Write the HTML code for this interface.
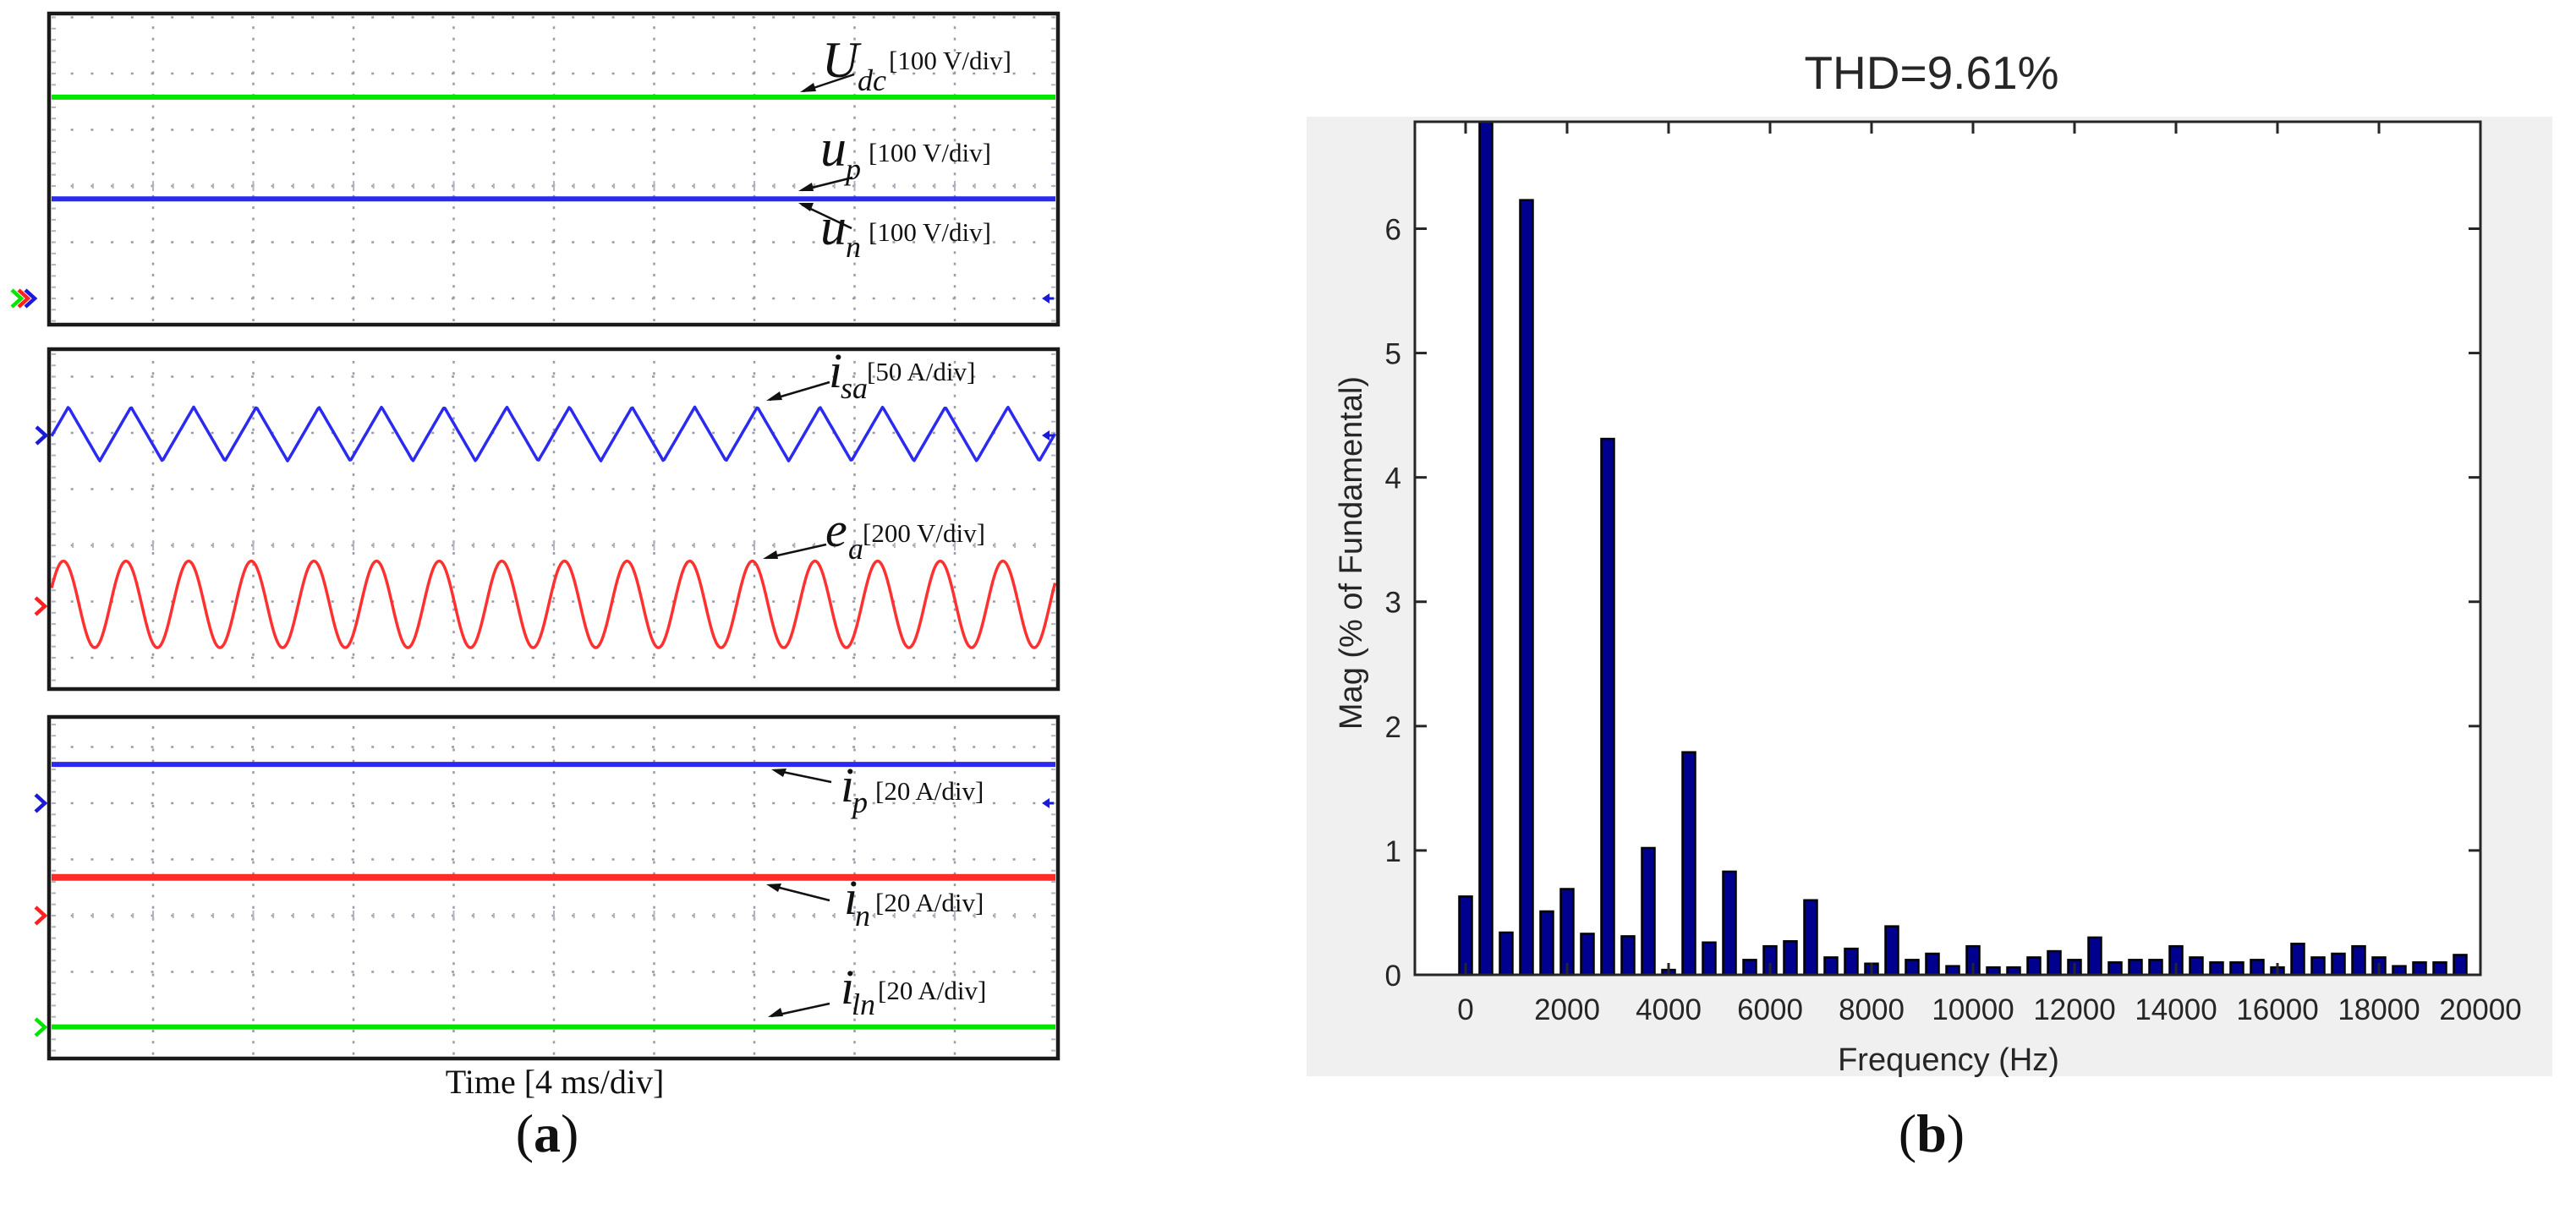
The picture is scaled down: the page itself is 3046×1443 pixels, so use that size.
<!DOCTYPE html>
<html><head><meta charset="utf-8"><style>
html,body{margin:0;padding:0;background:#fff;}
svg{display:block;}
.lbl{font-family:"Liberation Serif",serif;fill:#111;}
.it{font-style:italic;}
.ax{font-family:"Liberation Sans",sans-serif;fill:#262626;}
</style></head><body>
<svg id="fig" width="3046" height="1443" viewBox="0 0 3046 1443" xmlns="http://www.w3.org/2000/svg">
<rect x="0" y="0" width="3046" height="1443" fill="#fff"/>
<g id="scope"></g>
<g id="fft"></g>

<g stroke="#111" stroke-width="2.5" fill="none">
  <line x1="1010" y1="88" x2="950" y2="108"/>
  <line x1="1008" y1="210" x2="948" y2="225"/>
  <line x1="1007" y1="270" x2="948" y2="242"/>
  <line x1="981" y1="452" x2="910" y2="473"/>
  <line x1="977" y1="644" x2="906" y2="660"/>
  <line x1="983" y1="925" x2="916" y2="911"/>
  <line x1="981" y1="1065" x2="910" y2="1047"/>
  <line x1="981" y1="1187" x2="912" y2="1202"/>
</g>
<g fill="#111">
  <polygon points="946,109 962,98 965,108"/>
  <polygon points="944,226 960,216 962,226"/>
  <polygon points="944,240 962,240 958,250"/>
  <polygon points="906,474 922,463 925,473"/>
  <polygon points="902,661 918,651 920,661"/>
  <polygon points="912,910 930,909 926,919"/>
  <polygon points="906,1046 924,1045 920,1055"/>
  <polygon points="908,1203 923,1192 926,1202"/>
</g>
<g class="lbl">
  <text x="972" y="91" class="it" font-size="60">U</text>
  <text x="1014" y="107" class="it" font-size="36">dc</text>
  <text x="1051" y="82" font-size="31">[100 V/div]</text>

  <text x="970" y="196" class="it" font-size="62">u</text>
  <text x="1000" y="212" class="it" font-size="36">p</text>
  <text x="1027" y="191" font-size="31">[100 V/div]</text>

  <text x="970" y="289" class="it" font-size="62">u</text>
  <text x="1000" y="304" class="it" font-size="36">n</text>
  <text x="1027" y="285" font-size="31">[100 V/div]</text>

  <text x="980" y="458" class="it" font-size="58">i</text>
  <text x="994" y="471" class="it" font-size="36">sa</text>
  <text x="1025" y="450" font-size="31">[50 A/div]</text>

  <text x="976" y="646" class="it" font-size="58">e</text>
  <text x="1003" y="661" class="it" font-size="36">a</text>
  <text x="1020" y="641" font-size="31">[200 V/div]</text>

  <text x="994" y="948" class="it" font-size="58">i</text>
  <text x="1008" y="961" class="it" font-size="36">p</text>
  <text x="1035" y="946" font-size="31">[20 A/div]</text>

  <text x="998" y="1081" class="it" font-size="58">i</text>
  <text x="1011" y="1095" class="it" font-size="36">n</text>
  <text x="1035" y="1078" font-size="31">[20 A/div]</text>

  <text x="994" y="1187" class="it" font-size="58">i</text>
  <text x="1007" y="1200" class="it" font-size="36">ln</text>
  <text x="1038" y="1182" font-size="31">[20 A/div]</text>

  <text x="656" y="1293" text-anchor="middle" font-size="40">Time [4 ms/div]</text>
  <text x="647" y="1362" text-anchor="middle" font-size="64">(<tspan font-weight="bold">a</tspan>)</text>
  <text x="2284" y="1362" text-anchor="middle" font-size="64">(<tspan font-weight="bold">b</tspan>)</text>
</g>
</svg>
<script>
// ===== FFT chart data =====
const harmonicFreqs = [0,400,800,1200,1600,2000,2400,2800,3200,3600,4000,4400,4800,5200,5600,6000,6400,6800,7200,7600,8000,8400,8800,9200,9600,10000,10400,10800,11200,11600,12000,12400,12800,13200,13600,14000,14400,14800,15200,15600,16000,16400,16800,17200,17600,18000,18400,18800,19200,19600];
const harmonicMags = [0.63,7.5,0.34,6.23,0.51,0.69,0.33,4.31,0.31,1.02,0.04,1.79,0.26,0.83,0.12,0.23,0.27,0.60,0.14,0.21,0.09,0.39,0.12,0.17,0.07,0.23,0.06,0.06,0.14,0.19,0.12,0.30,0.10,0.12,0.12,0.23,0.14,0.10,0.10,0.12,0.06,0.25,0.14,0.17,0.23,0.14,0.07,0.10,0.10,0.16];
const xTickValues = [0,2000,4000,6000,8000,10000,12000,14000,16000,18000,20000];
const yTickValues = [0,1,2,3,4,5,6];
const xDomain = [-1000, 20000];
const yDomain = [0, 6.86];
const chartTitle = "THD=9.61%";

// ===== Oscilloscope trace data (levels/amplitudes in divisions) =====
const scopeDcNames = ["Udc","up-un","ip","in","iln"];
const scopeDcPanels = [0,0,2,2,2];
const scopeDcLevels = [1.58,-0.23,2.69,0.68,-1.98];
const scopeDcColors = ["#00e600","#2a2af0","#2a2af0","#ff2a2a","#00e600"];
const scopeAcNames = ["isa","ea"];
const scopeAcOffsets = [1.98,-1.05];
const scopeAcAmps = [0.48,0.77];
const scopeAcFreqHz = [400,400];
const scopeAcPeakMs = [0.62,0.42];
const scopeAcShapes = ["triangle","sine"];
const scopeAcColors = ["#2a2af0","#ff3030"];
const timePerDivMs = 4;

const NS = "http://www.w3.org/2000/svg";
function mk(tag, attrs, parent){ const e=document.createElementNS(NS,tag); for(const k in attrs) e.setAttribute(k,attrs[k]); parent.appendChild(e); return e; }

const scope = document.getElementById('scope');
const PX0 = 58, PX1 = 1251, GX0 = 62.5, DIVX = 118.5, DIVY = 66.5;
const panels = [{top:16,bot:384,cy:220},{top:413,bot:815,cy:645},{top:848,bot:1252,cy:1083}];
function tx(ms){ return GX0 + ms/timePerDivMs*DIVX; }
function vy(p, div){ return panels[p].cy - div*DIVY; }

panels.forEach((p, pi) => {
  const g = mk('g', {}, scope);
  
  
  mk('rect', {x:PX0, y:p.top, width:PX1-PX0, height:p.bot-p.top, fill:'#fff'}, g);
  for (let i=1;i<10;i++){
    const x = GX0 + i*DIVX;
    const l = mk('line',{x1:x,y1:p.top+4,x2:x,y2:p.bot-4,stroke:'#9a9aa8','stroke-width':2.5,'stroke-dasharray':'3 10.3','stroke-dashoffset':((p.cy-p.top-4)%13.3)+1.5}, g);
    
    
  }
  for (let k=-6;k<=6;k++){
    const y = p.cy + k*DIVY;
    if (y<=p.top+3 || y>=p.bot-3) continue;
    const l = mk('line',{x1:PX0+4,y1:y,x2:PX1-4,y2:y,stroke:'#9a9aa8','stroke-width':2.5,'stroke-dasharray':'3 20.7','stroke-dashoffset':((GX0-PX0-4)%23.7)+1.5}, g);
    
    
    if (k===0){
      for (let j=1;j<50;j++){
        const x = GX0 + j*DIVX/5;
        const h = (j%5===0)?6:3;
        const t = mk('line',{x1:x,y1:y-h,x2:x,y2:y+h,stroke:'#b4b4c0','stroke-width':2}, g);
        
        
      }
    }
  }
  for (let k=-40;k<=40;k++){
    const y = p.cy + k*DIVY/5;
    if (y<=p.top+3 || y>=p.bot-3) continue;
    mk('line',{x1:PX0+3,y1:y,x2:PX0+8,y2:y,stroke:'#b4b4c0','stroke-width':2},g);
    mk('line',{x1:PX1-8,y1:y,x2:PX1-3,y2:y,stroke:'#b4b4c0','stroke-width':2},g);
  }
});

scopeDcLevels.forEach((lv, i) => {
  const y = vy(scopeDcPanels[i], lv);
  const l = mk('line',{x1:PX0+3,y1:y,x2:PX1-3,y2:y,stroke:scopeDcColors[i],'stroke-width':(i===3?8:6),'stroke-linecap':'butt'}, scope);
  
  
});
scopeAcOffsets.forEach((off, i) => {
  const periodMs = 1000/scopeAcFreqHz[i];
  const pts = [];
  for (let x=PX0+3; x<=PX1-3; x+=1.5){
    const ms = (x-GX0)/DIVX*timePerDivMs;
    const ph = ((ms - scopeAcPeakMs[i])/periodMs) % 1;
    const phase = ph<0?ph+1:ph;
    let v;
    if (scopeAcShapes[i]==='sine') v = Math.cos(2*Math.PI*phase);
    else v = 1 - 4*Math.min(phase, 1-phase);
    pts.push(x.toFixed(1)+','+vy(1, off + scopeAcAmps[i]*v).toFixed(1));
  }
  const pl = mk('polyline',{points:pts.join(' '),fill:'none',stroke:scopeAcColors[i],'stroke-width':3.5,'stroke-linejoin':'round'}, scope);
  
  
});
panels.forEach((p, pi) => {
  const r = mk('rect',{x:PX0,y:p.top,width:PX1-PX0,height:p.bot-p.top,fill:'none',stroke:'#1a1a1a','stroke-width':4.5}, scope);
  
  
});
function chevron(x, y, color, name){
  const c = mk('polyline',{points:`${x},${y-10} ${x+11},${y} ${x},${y+10}`,fill:'none',stroke:color,'stroke-width':4.5,'stroke-linejoin':'miter'}, scope);
  
  
}
function leftArrow(x, y, color, name){
  const a = mk('polygon',{points:`${x},${y} ${x+9},${y-6} ${x+9},${y+6}`,fill:color}, scope);
  
  
  mk('line',{x1:x+8,y1:y,x2:x+14,y2:y,stroke:color,'stroke-width':3}, scope);
}
chevron(14,353,'#00e600','marker-green'); chevron(22,353,'#ff2020','marker-red'); chevron(30,353,'#1a1ad8','marker-blue');
leftArrow(1232,353,'#1a1ad8','right-marker-1');
chevron(43,515,'#1a1ad8','marker-isa'); chevron(42,717,'#ff2020','marker-ea');
leftArrow(1232,515,'#1a1ad8','right-marker-2');
chevron(42,950,'#1a1ad8','marker-ip'); chevron(42,1083,'#ff2020','marker-in'); chevron(42,1215,'#00e600','marker-iln');
leftArrow(1232,950,'#1a1ad8','right-marker-3');

const fft = document.getElementById('fft');
const AX0=1673, AX1=2933, AY0=144, AY1=1153;
function xs(f){ return AX0 + (f-xDomain[0])/(xDomain[1]-xDomain[0])*(AX1-AX0); }
function ys(v){ return AY1 - (v-yDomain[0])/(yDomain[1]-yDomain[0])*(AY1-AY0); }
const bgr = mk('rect',{x:1545,y:138,width:1473,height:1135,fill:'#f0f0f0'}, fft);


const axr = mk('rect',{x:AX0,y:AY0,width:AX1-AX0,height:AY1-AY0,fill:'#fff'}, fft);


const clip = mk('clipPath',{id:'axclip'}, fft);
mk('rect',{x:AX0,y:AY0,width:AX1-AX0,height:AY1-AY0}, clip);
const bars = mk('g',{'clip-path':'url(#axclip)'}, fft);


const BW = 15;
harmonicFreqs.forEach((f, i) => {
  const v = harmonicMags[i];
  const y = ys(v);
  const b = mk('rect',{x:xs(f)-BW/2,y:y,width:BW,height:Math.max(AY1-y,0),fill:'#00008f',stroke:'#000','stroke-width':2.5}, bars);
  
  
});
const box = mk('rect',{x:AX0,y:AY0,width:AX1-AX0,height:AY1-AY0,fill:'none',stroke:'#262626','stroke-width':3}, fft);


xTickValues.forEach(v => {
  const x = xs(v);
  mk('line',{x1:x,y1:AY1,x2:x,y2:AY1-14,stroke:'#262626','stroke-width':3}, fft);
  mk('line',{x1:x,y1:AY0,x2:x,y2:AY0+14,stroke:'#262626','stroke-width':3}, fft);
  const t = mk('text',{x:x,y:1206,'text-anchor':'middle','font-size':35,class:'ax'}, fft);
  t.textContent = v;
  
  
});
yTickValues.forEach(v => {
  const y = ys(v);
  mk('line',{x1:AX0,y1:y,x2:AX0+14,y2:y,stroke:'#262626','stroke-width':3}, fft);
  mk('line',{x1:AX1,y1:y,x2:AX1-14,y2:y,stroke:'#262626','stroke-width':3}, fft);
  const t = mk('text',{x:1657,y:y+13,'text-anchor':'end','font-size':35,class:'ax'}, fft);
  t.textContent = v;
  
  
});
const xt = mk('text',{x:2304,y:1266,'text-anchor':'middle','font-size':38,class:'ax'}, fft);
xt.textContent = 'Frequency (Hz)';


const yt = mk('text',{x:0,y:0,'text-anchor':'middle','font-size':38,class:'ax',transform:'translate(1610,654) rotate(-90)'}, fft);
yt.textContent = 'Mag (% of Fundamental)';


const tt = mk('text',{x:2284,y:105,'text-anchor':'middle','font-size':55,class:'ax'}, fft);
tt.textContent = chartTitle;
tt.setAttribute('fill','#000');


</script>
</body></html>
